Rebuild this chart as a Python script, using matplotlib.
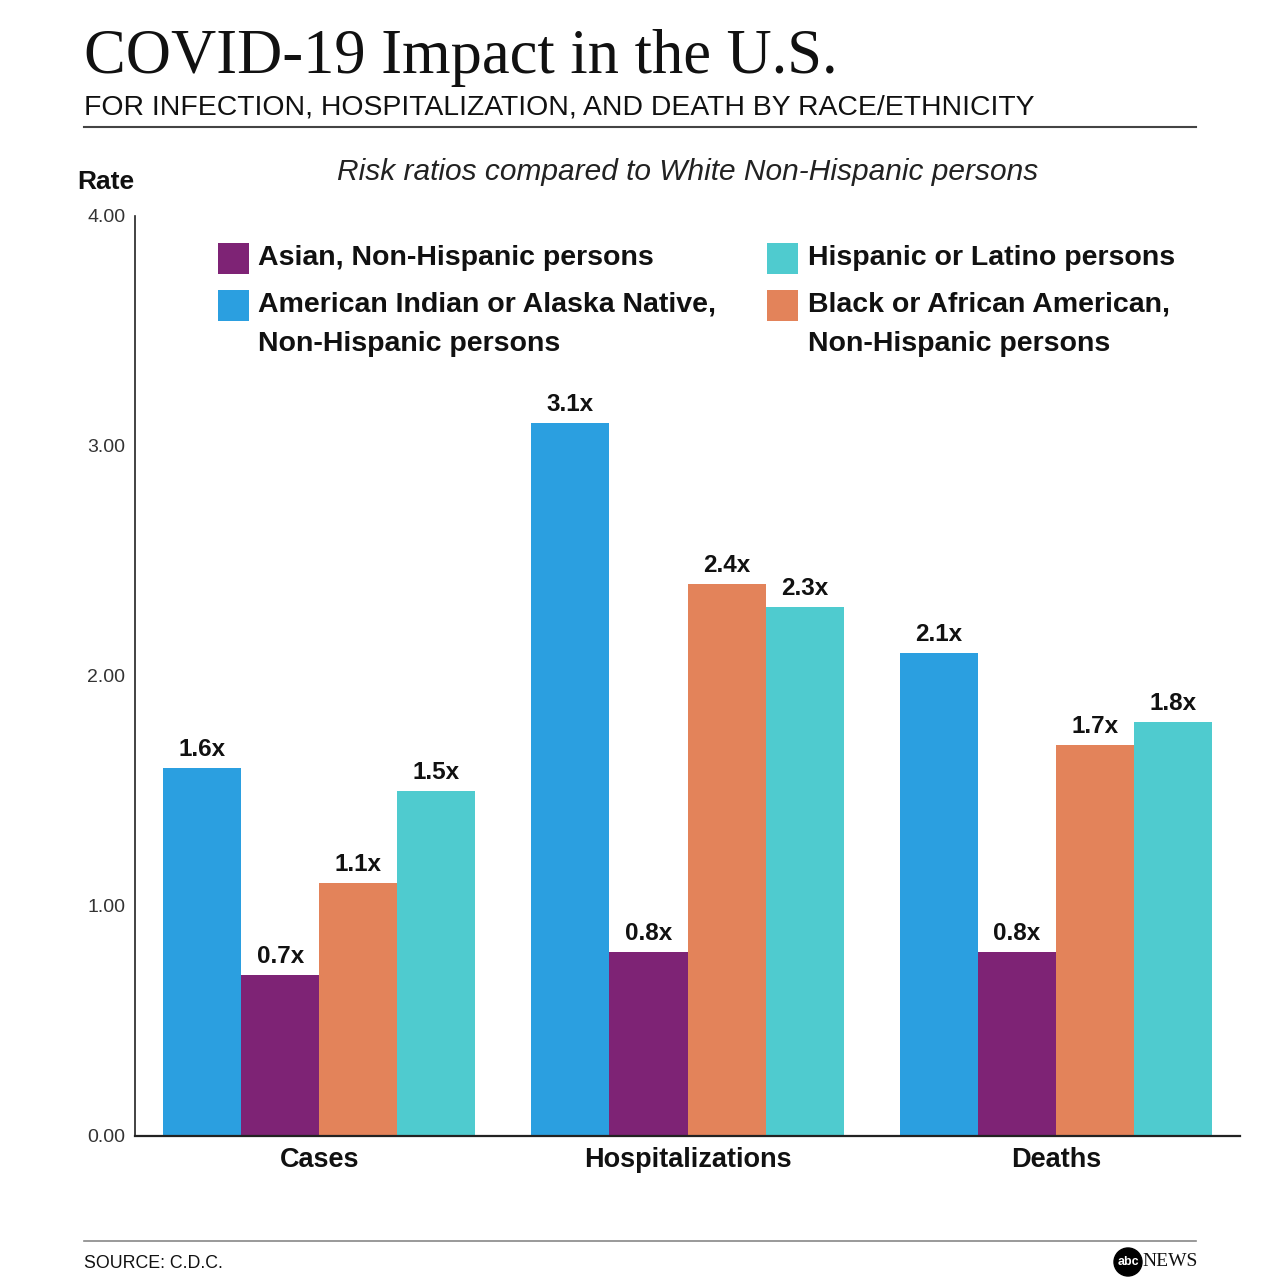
import matplotlib

matplotlib.use("Agg")
import matplotlib.pyplot as plt
import numpy as np
from matplotlib import font_manager
from matplotlib.patches import Circle, Rectangle
from matplotlib.lines import Line2D

categories = ["Cases", "Hospitalizations", "Deaths"]
groups = [
    "American Indian or Alaska Native,\nNon-Hispanic persons",
    "Asian, Non-Hispanic persons",
    "Black or African American,\nNon-Hispanic persons",
    "Hispanic or Latino persons",
]
aian = [1.6, 3.1, 2.1]
asian = [0.7, 0.8, 0.8]
black = [1.1, 2.4, 1.7]
hispanic = [1.5, 2.3, 1.8]
series = [aian, asian, black, hispanic]
colors = ["#2b9fe0", "#7e2375", "#e3835a", "#4fcbcf"]
yticks = [0, 1, 2, 3, 4]


def has_font(name):
    try:
        font_manager.findfont(font_manager.FontProperties(family=name), fallback_to_default=False)
        return True
    except Exception:
        return False


NARROW = "Liberation Sans Narrow" if has_font("Liberation Sans Narrow") else "Liberation Sans"
narrow_scale = 1.0 if NARROW == "Liberation Sans Narrow" else 0.85
SANS = "Liberation Sans"
SERIF = "Liberation Serif"

W = H = 1280
fig = plt.figure(figsize=(12.8, 12.8), dpi=100, facecolor="white")


def fx(px):
    return px / W


def fy(py):
    return 1 - py / H


ax = fig.add_axes([fx(135), 144 / H, 1105 / W, 920 / H])
n = len(series)
width = 78 / 368
x = np.arange(len(categories))
for i, (vals, col) in enumerate(zip(series, colors)):
    pos = x + (i - (n - 1) / 2) * width
    bars = ax.bar(pos, vals, width=width, color=col, linewidth=0)
    for b, v in zip(bars, vals):
        ax.annotate(f"{v:.1f}x", (b.get_x() + b.get_width() / 2, v),
                    xytext=(0, 5), textcoords="offset points",
                    ha="center", va="bottom", fontsize=17.5, fontweight="bold",
                    family=SANS, color="#111111")

ax.set_xlim(-0.5, 2.5)
ax.set_ylim(0, 4)
ax.set_yticks(yticks)
ax.set_yticklabels([f"{t:.2f}" for t in yticks], fontsize=14, color="#333333", family=SANS)
ax.set_xticks(x)
ax.set_xticklabels(categories, fontsize=19.5, fontweight="bold", family=SANS, color="#111111")
ax.tick_params(axis="both", length=0)
ax.tick_params(axis="y", pad=7)
ax.tick_params(axis="x", pad=8)
for s in ["top", "right"]:
    ax.spines[s].set_visible(False)
ax.spines["left"].set_linewidth(1.2)
ax.spines["bottom"].set_linewidth(1.6)
ax.spines["left"].set_color("#222222")
ax.spines["bottom"].set_color("#222222")

# headings
fig.text(fx(84), fy(73), "COVID-19 Impact in the U.S.", family=SERIF,
         fontsize=45, va="baseline", ha="left", color="#111111")
fig.text(fx(84), fy(115), "FOR INFECTION, HOSPITALIZATION, AND DEATH BY RACE/ETHNICITY",
         family=NARROW, fontsize=24 * narrow_scale, va="baseline", ha="left", color="#111111")
fig.add_artist(Line2D([fx(84), fx(1196)], [fy(127), fy(127)], color="#444444", lw=1.5,
                      transform=fig.transFigure))
fig.text(fx(688), fy(172), "Risk ratios compared to White Non-Hispanic persons",
         family=SANS, style="italic", fontsize=21.5, ha="center", va="center", color="#222222")
fig.text(fx(77), fy(182), "Rate", family=SANS, fontweight="bold", fontsize=19,
         ha="left", va="center", color="#111111")

# legend, drawn by hand so the swatch lines up with the first text line
legend_items = [
    (1, 218, 258, 258),
    (0, 218, 258, 305),
    (3, 767, 808, 258),
    (2, 767, 808, 305),
]
for idx, sx, tx, ty in legend_items:
    fig.add_artist(Rectangle((fx(sx), fy(ty + 16)), 31 / W, 31 / H, color=colors[idx],
                             transform=fig.transFigure, lw=0))
    lines = groups[idx].split("\n")
    for k, line in enumerate(lines):
        fig.text(fx(tx), fy(ty + 39 * k), line, family=SANS, fontweight="bold",
                 fontsize=20.5, ha="left", va="center", color="#111111")

# footer
fig.add_artist(Line2D([fx(84), fx(1196)], [fy(1241), fy(1241)], color="#888888", lw=1.2,
                      transform=fig.transFigure))
fig.text(fx(84), fy(1264), "SOURCE: C.D.C.", family=NARROW, fontsize=15 * narrow_scale,
         ha="left", va="center", color="#111111")
fig.add_artist(Circle((fx(1128), fy(1262)), 14 / W, color="black", transform=fig.transFigure))
fig.text(fx(1128), fy(1262), "abc", family=SANS, fontweight="bold", fontsize=9,
         color="white", ha="center", va="center")
fig.text(fx(1142), fy(1262), "NEWS", family=SERIF, fontsize=14, color="#111111",
         ha="left", va="center")

fig.savefig("out.png", dpi=100, facecolor="white")
